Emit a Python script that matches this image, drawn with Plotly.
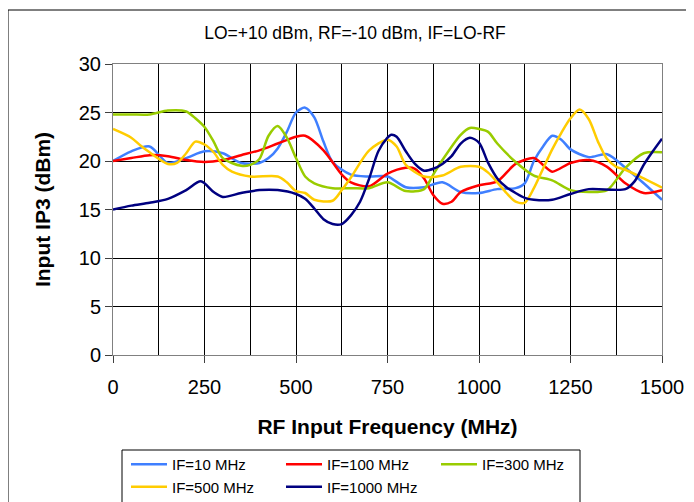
import plotly.graph_objects as go

# ---- data ----
f_if10 = [0, 50, 100, 150, 200, 250, 300, 350, 400, 425, 450, 475, 500, 525, 550, 575, 600, 650, 700, 750,
          800, 850, 900, 950, 1000, 1050, 1100, 1125, 1150, 1175, 1200, 1225, 1250, 1300, 1350, 1400, 1450, 1500]
v_if10 = [20, 21, 21.5, 19.8, 20.3, 21, 20.8, 19.8, 19.8, 20.3, 21.3, 23, 25, 25.5, 24.5, 22, 19.9, 18.6, 18.4, 18.4,
          17.3, 17.3, 17.8, 16.8, 16.7, 17.1, 17.2, 17.7, 20, 21.5, 22.6, 22.2, 21.2, 20.4, 20.7, 19.3, 17.7, 16]

f_if100 = [0, 50, 100, 150, 200, 250, 300, 350, 400, 450, 500, 525, 575, 625, 650, 700, 750, 800, 825, 850,
           875, 900, 925, 950, 1000, 1050, 1100, 1150, 1175, 1200, 1250, 1300, 1350, 1400, 1450, 1500]
v_if100 = [20, 20.3, 20.6, 20.5, 20.1, 19.9, 20.1, 20.6, 21.1, 21.8, 22.5, 22.6, 21.1, 18.6, 17.8, 17.4, 18.7, 19.3, 19.2, 18.2,
           16.5, 15.6, 15.8, 16.8, 17.5, 17.9, 19.7, 20.3, 19.6, 18.9, 19.8, 20.1, 19.4, 17.7, 16.7, 17]

f_if300 = [0, 50, 100, 150, 200, 225, 250, 275, 300, 350, 375, 400, 425, 450, 475, 500, 525, 550, 600, 650, 700, 750,
           800, 850, 875, 900, 950, 975, 1000, 1025, 1050, 1100, 1150, 1200, 1250, 1300, 1350, 1400, 1450, 1500]
v_if300 = [24.8, 24.8, 24.8, 25.2, 25.1, 24.4, 23.5, 22, 20.3, 19.5, 19.6, 20.2, 22.6, 23.6, 22.4, 20.3, 18.4, 17.7, 17.2, 17.2, 17.2, 17.8,
           16.9, 17.1, 18.6, 20.1, 22.7, 23.4, 23.3, 23, 21.8, 19.9, 18.5, 18, 17, 16.8, 17, 19.3, 20.8, 20.9]

f_if500 = [0, 50, 75, 100, 150, 175, 200, 225, 250, 275, 300, 325, 375, 450, 475, 500, 525, 550, 600, 625, 650, 700,
           750, 775, 800, 850, 900, 950, 1000, 1025, 1050, 1075, 1100, 1125, 1150, 1175, 1200, 1225, 1250, 1275,
           1300, 1325, 1350, 1375, 1400, 1450, 1500]
v_if500 = [23.3, 22.4, 21.6, 20.9, 19.7, 19.8, 20.8, 22, 21.7, 20.9, 19.6, 18.9, 18.4, 18.4, 17.8, 16.9, 16.7, 16, 15.9, 17, 18.3, 21.1,
           22.2, 21.5, 19.6, 18.4, 18.5, 19.4, 19.4, 18.8, 17.8, 16.7, 15.8, 15.7, 17.2, 19.2, 21.2, 22.9, 24.4, 25.3,
           24.3, 22, 20.2, 19.4, 19.1, 18.2, 17.25]

f_if1000 = [0, 50, 100, 150, 200, 240, 275, 300, 350, 400, 450, 500, 525, 550, 575, 600, 625, 650, 675, 700, 725, 750,
            760, 775, 800, 825, 850, 875, 900, 925, 950, 975, 1000, 1025, 1050, 1075, 1100, 1125, 1150, 1200, 1250,
            1300, 1400, 1425, 1450, 1475, 1500]
v_if1000 = [15, 15.4, 15.7, 16.1, 17, 17.9, 16.8, 16.3, 16.7, 17, 17, 16.6, 16.1, 15.1, 14, 13.5, 13.5, 14.4, 15.8, 18.2, 21, 22.4,
            22.7, 22.5, 21, 19.7, 19, 19.2, 19.7, 20.5, 21.8, 22.4, 21.9, 19.8, 18.2, 17.3, 16.7, 16.2, 16, 16, 16.6,
            17.1, 17.1, 17.9, 19.6, 21, 22.3]

series_names = ["IF=10 MHz", "IF=100 MHz", "IF=300 MHz", "IF=500 MHz", "IF=1000 MHz"]
series_x = [f_if10, f_if100, f_if300, f_if500, f_if1000]
series_y = [v_if10, v_if100, v_if300, v_if500, v_if1000]
series_colors = ["#3F7FFF", "#FF0000", "#99CC00", "#FFCC00", "#000080"]

x_ticks = [0, 250, 500, 750, 1000, 1250, 1500]
y_ticks = [0, 5, 10, 15, 20, 25, 30]

FONT = "Liberation Sans, Arial, sans-serif"

fig = go.Figure()
for name, xs, ys, col in zip(series_names, series_x, series_y, series_colors):
    fig.add_trace(go.Scatter(x=xs, y=ys, name=name, mode="lines",
                             line=dict(color=col, width=2.5, shape="spline", smoothing=0.8)))

# page renders the figure with an 8px body offset; compensate
OFF = 8
W, H = 694, 502
L = 113 - OFF
T = 64 - OFF
R = W - (662 - OFF)
B = H - (355 - OFF)
pw, ph = W - L - R, H - T - B

def px(xp):
    return (xp - OFF - L) / pw

def py(yp):
    return (H - B - (yp - OFF)) / ph

fig.update_layout(
    width=W, height=H,
    margin=dict(l=L, r=R, t=T, b=B, autoexpand=False),
    paper_bgcolor="white", plot_bgcolor="white",
    font=dict(family=FONT, color="black"),
    title=dict(text="LO=+10 dBm, RF=-10 dBm, IF=LO-RF", x=(355 - OFF) / W, xanchor="center", xref="container",
               y=1 - (33 - OFF) / H, yref="container", yanchor="middle", font=dict(size=17.5, family=FONT)),
    showlegend=True,
    legend=dict(orientation="h", x=px(126), xanchor="left", y=py(448), yanchor="top",
                entrywidth=104, entrywidthmode="pixels", font=dict(size=15, family=FONT),
                bgcolor="rgba(0,0,0,0)", borderwidth=0, tracegroupgap=0, itemwidth=36),
    xaxis=dict(range=[0, 1500], tickvals=x_ticks, ticktext=[str(v) for v in x_ticks],
               showgrid=True, gridcolor="black", gridwidth=1, automargin=False,
               minor=dict(tickvals=[125 * i for i in range(13)], showgrid=True, gridcolor="black", gridwidth=1),
               showline=True, linecolor="#808080", linewidth=1, mirror=True,
               ticks="outside", ticklen=7, tickcolor="#404040", ticklabelstandoff=7,
               tickfont=dict(size=20, family=FONT), zeroline=False,
               title=dict(text="<b>RF Input Frequency (MHz)</b>", font=dict(size=21, family=FONT), standoff=22)),
    yaxis=dict(range=[0, 30], tickvals=y_ticks, showgrid=True, gridcolor="black", gridwidth=1, automargin=False,
               showline=True, linecolor="#808080", linewidth=1, mirror=True,
               ticks="outside", ticklen=7, tickcolor="#404040",
               tickfont=dict(size=20, family=FONT), zeroline=False,
               title=dict(text="<b>Input IP3 (dBm)</b>", font=dict(size=21, family=FONT), standoff=22)),
    shapes=[
        dict(type="rect", xref="paper", yref="paper", x0=px(8), x1=px(702), y0=py(520), y1=py(10),
             line=dict(color="black", width=1), fillcolor="rgba(0,0,0,0)", layer="below"),
        dict(type="rect", xref="paper", yref="paper", x0=px(122), x1=px(580), y0=py(520), y1=py(450),
             line=dict(color="black", width=1), fillcolor="rgba(0,0,0,0)", layer="below"),
    ],
)

fig.write_html("out.html")
